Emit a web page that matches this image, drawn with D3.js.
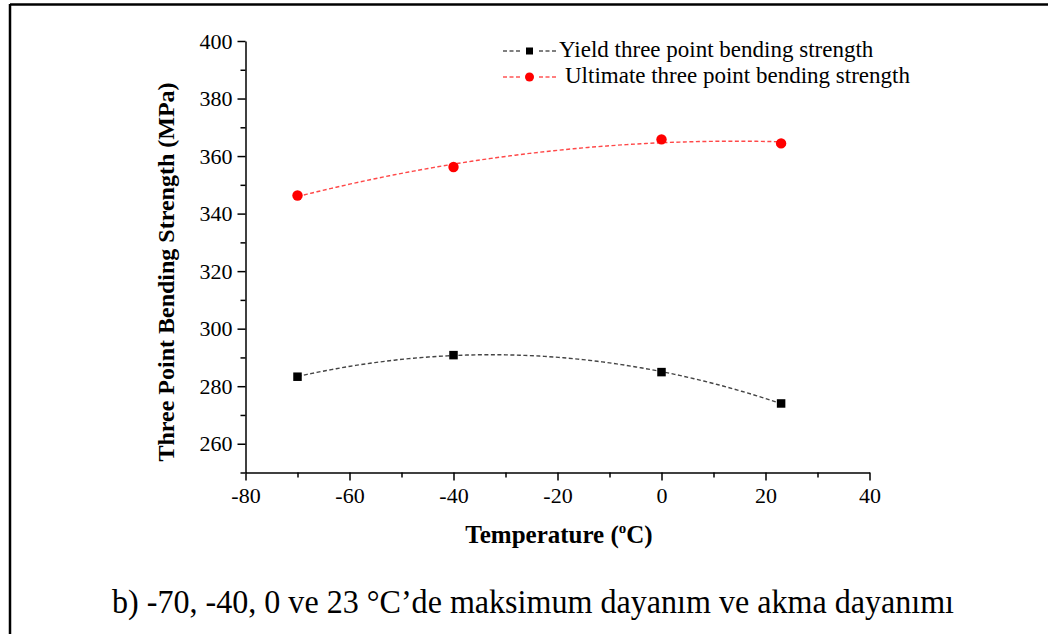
<!DOCTYPE html>
<html>
<head>
<meta charset="utf-8">
<script src="https://cdn.jsdelivr.net/npm/d3@7/dist/d3.min.js"></script>
<style>
  html, body { margin: 0; padding: 0; background: #fff; }
  svg { display: block; }
</style>
</head>
<body>
<svg id="chart" width="1048" height="634"></svg>
<script>
// Test temperatures (°C)
const temperatures = [-70, -40, 0, 23];
// Three point bending strength (MPa)
const yieldStrength = [283.3, 290.8, 284.9, 274.0];
const ultimateStrength = [346.3, 356.2, 365.8, 364.4];

const seriesNames = ["Yield three point bending strength", "Ultimate three point bending strength"];
const xTicks = [-80, -60, -40, -20, 0, 20, 40];
const yTicks = [260, 280, 300, 320, 340, 360, 380, 400];
const xTitle = "Temperature (";
const yTitle = "Three Point Bending Strength (MPa)";
const caption = "b) -70, -40, 0 ve 23 \u00B0C\u2019de maksimum dayan\u0131m ve akma dayan\u0131m\u0131";

const FONT = "Liberation Serif";
const svg = d3.select("#chart");

// page frame (top and left rules)
svg.append("line").attr("x1", 10).attr("x2", 1048).attr("y1", 4.5).attr("y2", 4.5)
  .attr("stroke", "#000").attr("stroke-width", 2.5);
svg.append("line").attr("x1", 10).attr("x2", 10).attr("y1", 4).attr("y2", 634)
  .attr("stroke", "#000").attr("stroke-width", 2.5);

const x = d3.scaleLinear().domain([-80, 40]).range([245.5, 869.5]);
const y = d3.scaleLinear().domain([250, 400]).range([472.5, 41]);
const fmt = d => String(d);

const xMinor = d3.range(-70, 40, 20);
const yMinor = d3.range(250, 400, 20);

svg.append("g").attr("transform", `translate(0,${y(250)})`)
  .call(d3.axisBottom(x).tickValues(xMinor).tickSize(5).tickFormat(""))
  .call(g => g.select(".domain").remove());
const gxMaj = svg.append("g").attr("transform", `translate(0,${y(250)})`)
  .call(d3.axisBottom(x).tickValues(xTicks).tickSize(8).tickSizeOuter(0).tickPadding(7).tickFormat(fmt));

svg.append("g").attr("transform", `translate(${x(-80)},0)`)
  .call(d3.axisLeft(y).tickValues(yMinor).tickSize(5).tickFormat(""))
  .call(g => g.select(".domain").remove());
const gyMaj = svg.append("g").attr("transform", `translate(${x(-80)},0)`)
  .call(d3.axisLeft(y).tickValues(yTicks).tickSize(8).tickSizeOuter(0).tickPadding(5).tickFormat(fmt));

svg.selectAll(".domain, .tick line").attr("stroke", "#000").attr("stroke-width", 1.5);
svg.selectAll(".tick text").attr("font-family", FONT).attr("font-size", 22).attr("fill", "#000");

// quadratic least-squares fit through the measured points
function quadFit(xs, ys) {
  const n = xs.length;
  let s = [0, 0, 0, 0, 0], t = [0, 0, 0];
  for (let i = 0; i < n; i++) {
    const xi = xs[i];
    for (let k = 0; k <= 4; k++) s[k] += Math.pow(xi, k);
    for (let k = 0; k <= 2; k++) t[k] += ys[i] * Math.pow(xi, k);
  }
  const M = [[s[0], s[1], s[2], t[0]], [s[1], s[2], s[3], t[1]], [s[2], s[3], s[4], t[2]]];
  for (let c = 0; c < 3; c++) {
    for (let r = c + 1; r < 3; r++) {
      const f = M[r][c] / M[c][c];
      for (let k = c; k < 4; k++) M[r][k] -= f * M[c][k];
    }
  }
  const coef = [0, 0, 0];
  for (let r = 2; r >= 0; r--) {
    let v = M[r][3];
    for (let k = r + 1; k < 3; k++) v -= M[r][k] * coef[k];
    coef[r] = v / M[r][r];
  }
  return t => coef[0] + coef[1] * t + coef[2] * t * t;
}

const line = d3.line().x(d => x(d[0])).y(d => y(d[1]));
function fitPath(vals, color) {
  const f = quadFit(temperatures, vals);
  const lo = d3.min(temperatures), hi = d3.max(temperatures);
  const pts = d3.range(0, 101).map(i => { const t = lo + (hi - lo) * i / 100; return [t, f(t)]; });
  svg.append("path").attr("d", line(pts)).attr("fill", "none")
    .attr("stroke", color).attr("stroke-width", 1.4).attr("stroke-dasharray", "4,2.5");
}
fitPath(ultimateStrength, "#ff4848");
fitPath(yieldStrength, "#444");

// markers
svg.append("g").selectAll("circle").data(temperatures).join("circle")
  .attr("cx", d => x(d)).attr("cy", (d, i) => y(ultimateStrength[i])).attr("r", 5.2).attr("fill", "#ff0000");
const sq = 8.5;
svg.append("g").selectAll("rect").data(temperatures).join("rect")
  .attr("x", d => x(d) - sq / 2).attr("y", (d, i) => y(yieldStrength[i]) - sq / 2)
  .attr("width", sq).attr("height", sq).attr("fill", "#000");

// legend
const leg = svg.append("g");
[[51, "#000"], [77, "#ff0000"]].forEach(([ly, col], i) => {
  leg.append("line").attr("x1", 503).attr("x2", 520).attr("y1", ly).attr("y2", ly)
    .attr("stroke", col).attr("stroke-width", 1.2).attr("stroke-dasharray", "4,2.5");
  leg.append("line").attr("x1", 539).attr("x2", 557).attr("y1", ly).attr("y2", ly)
    .attr("stroke", col).attr("stroke-width", 1.2).attr("stroke-dasharray", "4,2.5");
  if (i === 0) leg.append("rect").attr("x", 526).attr("y", ly - 3.5).attr("width", 7).attr("height", 7).attr("fill", col);
  else leg.append("circle").attr("cx", 529.5).attr("cy", ly).attr("r", 4.5).attr("fill", col);
  leg.append("text").attr("x", i === 0 ? 559 : 565).attr("y", ly + 6)
    .attr("font-family", FONT).attr("font-size", 23).text(seriesNames[i]);
});

// axis titles
const xt = svg.append("text").attr("x", 559).attr("y", 543).attr("text-anchor", "middle")
  .attr("font-family", FONT).attr("font-size", 25).attr("font-weight", "bold");
xt.append("tspan").text(xTitle);
xt.append("tspan").attr("font-size", 15).attr("dy", -10).text("o");
xt.append("tspan").attr("dy", 10).text("C)");

svg.append("text").attr("transform", "translate(174,272) rotate(-90)").attr("text-anchor", "middle")
  .attr("font-family", FONT).attr("font-size", 24).attr("font-weight", "bold").text(yTitle);

// caption (set in a condensed width)
svg.append("text").attr("x", 112).attr("y", 613).attr("font-family", FONT).attr("font-size", 34)
  .attr("textLength", 842).attr("lengthAdjust", "spacingAndGlyphs").text(caption);
</script>
</body>
</html>
